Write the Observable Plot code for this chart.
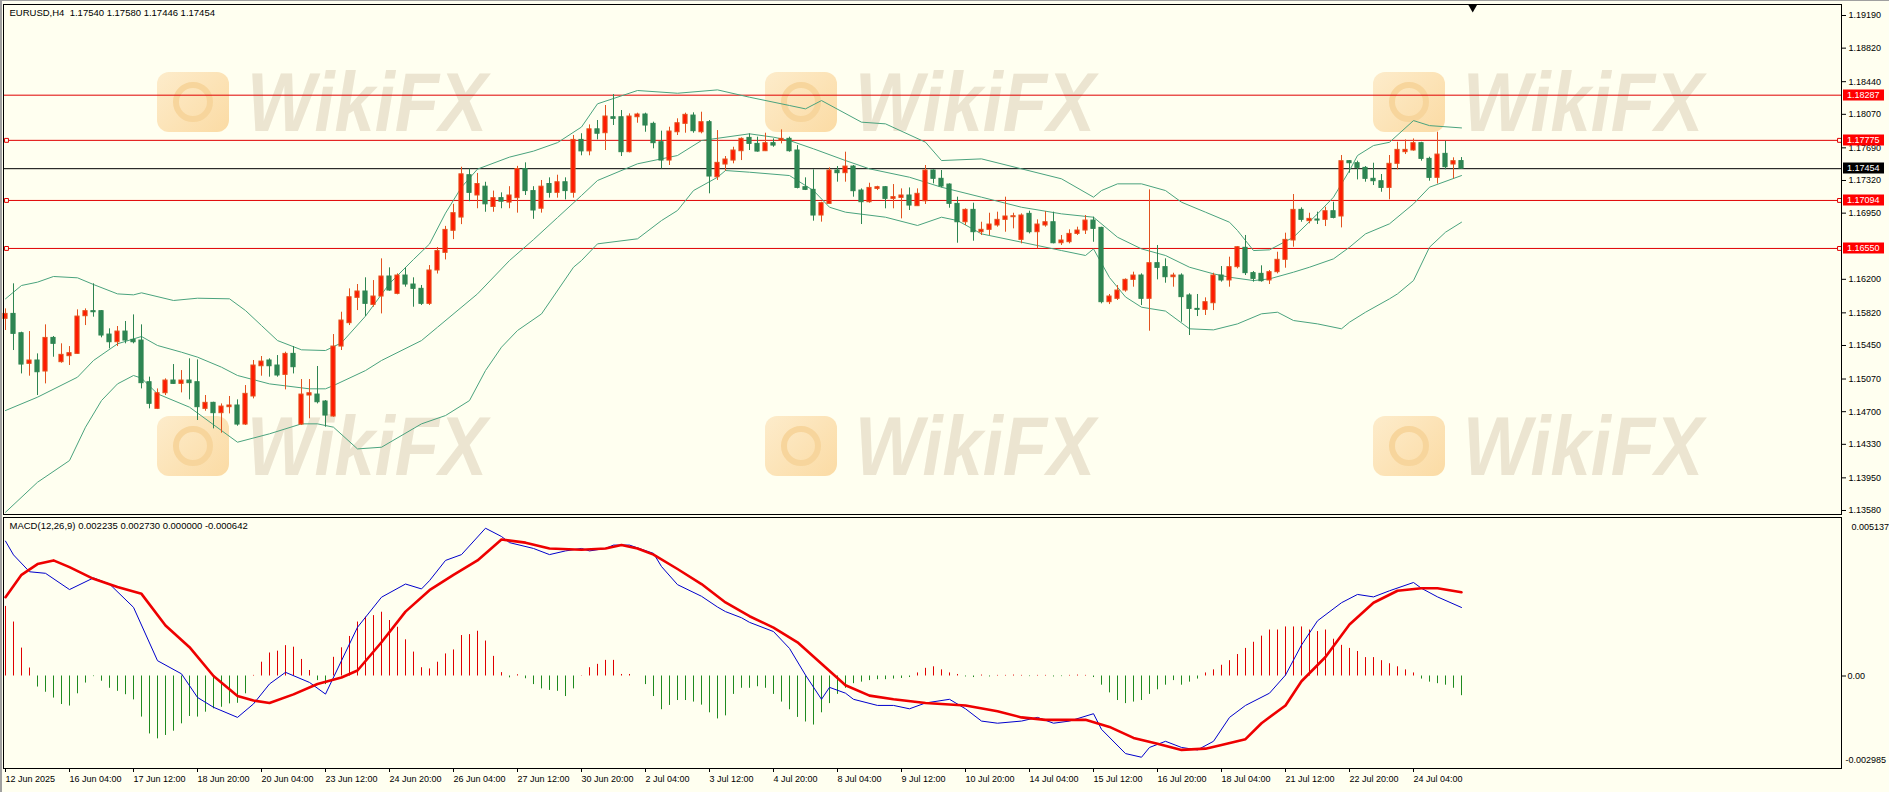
<!DOCTYPE html>
<html>
<head>
<meta charset="utf-8">
<script src="https://cdn.jsdelivr.net/npm/d3@7"></script>
<script src="https://cdn.jsdelivr.net/npm/@observablehq/plot@0.6"></script>
<style>
html, body { margin:0; padding:0; background:#fffff0; }
#wrap { position:relative; width:1889px; height:792px; overflow:hidden; background:#fffff0; }
.wm { position:absolute; height:80px; display:flex; align-items:center; pointer-events:none; }
.wm .ic { width:72px; height:60px; border-radius:12px; background:linear-gradient(135deg,#fdeccb,#fbdba4); margin-right:18px; position:relative; flex:none; }
.wm .ic::after { content:""; position:absolute; left:16px; top:10px; width:40px; height:40px; border-radius:50%; border:6px solid #f7d59c; box-sizing:border-box; }
.wm .tx { font-family:"Liberation Sans", Arial, sans-serif; font-weight:bold; font-style:italic; font-size:84px; line-height:84px; color:#ece5d1; transform:scaleX(0.86); transform-origin:left center; white-space:nowrap; }
#main, #macd { position:absolute; left:0; }
#main { top:0; }
#macd { top:515px; }
.edge { position:absolute; background:#a0a0a0; }
</style>
</head>
<body>
<div id="wrap">
  <div class="wm" style="left:157px;top:62px"><div class="ic"></div><div class="tx">WikiFX</div></div>
  <div class="wm" style="left:765px;top:62px"><div class="ic"></div><div class="tx">WikiFX</div></div>
  <div class="wm" style="left:1373px;top:62px"><div class="ic"></div><div class="tx">WikiFX</div></div>
  <div class="wm" style="left:157px;top:406px"><div class="ic"></div><div class="tx">WikiFX</div></div>
  <div class="wm" style="left:765px;top:406px"><div class="ic"></div><div class="tx">WikiFX</div></div>
  <div class="wm" style="left:1373px;top:406px"><div class="ic"></div><div class="tx">WikiFX</div></div>
  <div id="main"></div>
  <div id="macd"></div>
  <div class="edge" style="left:0;top:0;width:2px;height:792px"></div>
  <div class="edge" style="left:0;top:0;width:1889px;height:1px"></div>
</div>
<script>
// ---------------- data ----------------
const xLabels = ["12 Jun 2025","16 Jun 04:00","17 Jun 12:00","18 Jun 20:00","20 Jun 04:00","23 Jun 12:00","24 Jun 20:00","26 Jun 04:00","27 Jun 12:00","30 Jun 20:00","2 Jul 04:00","3 Jul 12:00","4 Jul 20:00","8 Jul 04:00","9 Jul 12:00","10 Jul 20:00","14 Jul 04:00","15 Jul 12:00","16 Jul 20:00","18 Jul 04:00","21 Jul 12:00","22 Jul 20:00","24 Jul 04:00"];
const xTickBars = [0,8,16,24,32,40,48,56,64,72,80,88,96,104,112,120,128,136,144,152,160,168,176];

const open = [
1.15752,1.15808,1.15589,1.15242,1.15280,1.15155,1.15536,1.15261,1.15329,1.15355,
1.15782,1.15839,1.15839,1.15574,1.15487,1.15608,1.15514,1.15506,1.15034,1.14732,
1.14909,1.15053,1.15015,1.15053,1.15034,1.14732,1.14800,1.14683,1.14751,1.14770,
1.14554,1.14872,1.15215,1.15280,1.15223,1.15117,1.15355,1.14554,1.14883,1.14894,
1.14815,1.14645,1.15438,1.15703,1.15990,1.16062,1.15910,1.16005,1.16232,1.16035,
1.16243,1.16141,1.16092,1.15922,1.16300,1.16500,1.16750,1.16900,1.17380,1.17150,
1.17250,1.17020,1.17120,1.17070,1.17120,1.17450,1.17200,1.17000,1.17280,1.17180,
1.17300,1.17180,1.17780,1.17650,1.17900,1.17856,1.18037,1.18037,1.17641,1.18037,
1.18068,1.17962,1.17754,1.17546,1.17867,1.17962,1.18056,1.17867,1.17981,1.17357,
1.17501,1.17546,1.17652,1.17803,1.17735,1.17652,1.17743,1.17773,1.17792,1.17660,
1.17244,1.17214,1.16923,1.17055,1.17433,1.17403,1.17478,1.17206,1.17074,1.17225,
1.17244,1.17112,1.17123,1.17150,1.17029,1.17085,1.17433,1.17339,1.17274,1.17055,
1.16847,1.16987,1.16734,1.16761,1.16810,1.16874,1.16904,1.16647,1.16942,1.16734,
1.16810,1.16847,1.16609,1.16621,1.16715,1.16753,1.16866,1.16783,1.15941,1.15979,
1.16073,1.16194,1.16243,1.15979,1.16383,1.16338,1.16224,1.16243,1.16017,1.15865,
1.15854,1.15929,1.16243,1.16187,1.16338,1.16557,1.16270,1.16262,1.16187,1.16281,
1.16421,1.16640,1.16987,1.16859,1.16878,1.16874,1.16972,1.16912,1.17539,1.17516,
1.17463,1.17339,1.17312,1.17236,1.17509,1.17641,1.17660,1.17743,1.17565,1.17350,
1.17622,1.17501,1.17540];
const high = [
1.15865,1.16149,1.15601,1.15608,1.15355,1.15684,1.15552,1.15469,1.15438,1.15854,
1.15865,1.16149,1.15846,1.15639,1.15665,1.15722,1.15797,1.15684,1.15091,1.14958,
1.15072,1.15234,1.15166,1.15299,1.15287,1.14883,1.14807,1.14788,1.14872,1.14834,
1.14996,1.15280,1.15325,1.15299,1.15336,1.15374,1.15438,1.15064,1.15064,1.15212,
1.14826,1.15574,1.15827,1.16092,1.16141,1.16217,1.16186,1.16432,1.16330,1.16262,
1.16330,1.16217,1.16130,1.16356,1.16560,1.16800,1.17050,1.17470,1.17450,1.17400,
1.17300,1.17200,1.17180,1.17250,1.17480,1.17520,1.17250,1.17320,1.17350,1.17380,
1.17350,1.17830,1.17850,1.17950,1.18000,1.18170,1.18294,1.18113,1.18075,1.18083,
1.18083,1.17981,1.17879,1.17924,1.18019,1.18083,1.18087,1.18094,1.18000,1.17886,
1.17592,1.17697,1.17803,1.17849,1.17811,1.17856,1.17792,1.17894,1.17811,1.17716,
1.17350,1.17441,1.17074,1.17463,1.17478,1.17641,1.17490,1.17225,1.17289,1.17255,
1.17252,1.17274,1.17225,1.17236,1.17225,1.17490,1.17440,1.17433,1.17282,1.17131,
1.16999,1.17063,1.16847,1.16949,1.16961,1.17131,1.16949,1.16942,1.16972,1.16874,
1.16968,1.16961,1.16697,1.16761,1.16791,1.16923,1.16904,1.16790,1.16028,1.16130,
1.16205,1.16281,1.16262,1.17214,1.16583,1.16432,1.16269,1.16262,1.16036,1.16028,
1.15990,1.16269,1.16345,1.16451,1.16572,1.16697,1.16288,1.16353,1.16300,1.16507,
1.16723,1.17161,1.17010,1.16949,1.16961,1.17017,1.17074,1.17603,1.17546,1.17539,
1.17478,1.17516,1.17388,1.17603,1.17754,1.17780,1.17791,1.17753,1.17584,1.17867,
1.17765,1.17577,1.17580];
const low = [
1.15620,1.15393,1.15128,1.15102,1.14883,1.15015,1.15317,1.15249,1.15223,1.15348,
1.15676,1.15771,1.15537,1.15412,1.15438,1.15469,1.15469,1.14958,1.14732,1.14724,
1.14883,1.15008,1.14913,1.14834,1.14600,1.14705,1.14505,1.14456,1.14675,1.14535,
1.14543,1.14845,1.15102,1.15091,1.15091,1.14947,1.15128,1.14543,1.14619,1.14788,
1.14524,1.14637,1.15393,1.15676,1.15846,1.15778,1.15884,1.15808,1.16065,1.16024,
1.16111,1.15884,1.15903,1.15903,1.16260,1.16420,1.16650,1.16820,1.17080,1.17000,
1.16960,1.16960,1.17000,1.17000,1.16950,1.17150,1.16880,1.16950,1.17120,1.17120,
1.17100,1.17120,1.17600,1.17600,1.17780,1.17660,1.17943,1.17592,1.17633,1.17969,
1.17867,1.17679,1.17452,1.17490,1.17830,1.17856,1.17856,1.17849,1.17169,1.17320,
1.17425,1.17509,1.17546,1.17660,1.17641,1.17648,1.17697,1.17735,1.17641,1.17225,
1.17206,1.16859,1.16848,1.17048,1.17301,1.17301,1.17131,1.16821,1.17063,1.17206,
1.16999,1.16999,1.16885,1.16980,1.17025,1.17048,1.17282,1.17236,1.17006,1.16609,
1.16810,1.16632,1.16697,1.16697,1.16791,1.16734,1.16772,1.16602,1.16715,1.16545,
1.16791,1.16602,1.16583,1.16602,1.16697,1.16708,1.16620,1.15922,1.15914,1.15960,
1.16054,1.16111,1.15903,1.15612,1.16194,1.16156,1.16111,1.15714,1.15563,1.15778,
1.15790,1.15846,1.16168,1.16111,1.16319,1.16243,1.16168,1.16168,1.16141,1.16262,
1.16326,1.16564,1.16847,1.16829,1.16821,1.16798,1.16885,1.16783,1.17403,1.17327,
1.17301,1.17263,1.17187,1.17101,1.17441,1.17614,1.17652,1.17539,1.17312,1.17281,
1.17441,1.17339,1.17446];
const close = [
1.15808,1.15582,1.15234,1.15280,1.15147,1.15536,1.15469,1.15344,1.15363,1.15778,
1.15839,1.15827,1.15563,1.15487,1.15608,1.15506,1.15487,1.15023,1.14789,1.14909,
1.15053,1.15015,1.15053,1.15023,1.14751,1.14800,1.14683,1.14758,1.14770,1.14554,
1.14902,1.15223,1.15268,1.15215,1.15110,1.15355,1.15204,1.14894,1.14909,1.14807,
1.14656,1.15438,1.15733,1.15997,1.16062,1.15922,1.16005,1.16232,1.16073,1.16243,
1.16141,1.16092,1.15922,1.16300,1.16520,1.16760,1.16950,1.17390,1.17180,1.17280,
1.17050,1.17120,1.17080,1.17150,1.17450,1.17200,1.16980,1.17250,1.17180,1.17300,
1.17200,1.17780,1.17650,1.17900,1.17850,1.18045,1.18019,1.17641,1.18045,1.18068,
1.17943,1.17743,1.17546,1.17875,1.17969,1.18064,1.17879,1.17981,1.17365,1.17520,
1.17558,1.17660,1.17792,1.17735,1.17648,1.17743,1.17716,1.17792,1.17652,1.17236,
1.17214,1.16923,1.17063,1.17433,1.17403,1.17478,1.17199,1.17074,1.17236,1.17244,
1.17112,1.17131,1.17150,1.17036,1.17169,1.17433,1.17339,1.17252,1.17055,1.16847,
1.16987,1.16734,1.16761,1.16821,1.16874,1.16912,1.16915,1.16923,1.16734,1.16821,
1.16847,1.16609,1.16640,1.16715,1.16753,1.16866,1.16772,1.15941,1.16005,1.16073,
1.16194,1.16243,1.15979,1.16383,1.16330,1.16224,1.16243,1.15998,1.15865,1.15854,
1.15941,1.16243,1.16187,1.16338,1.16564,1.16270,1.16205,1.16179,1.16281,1.16421,
1.16647,1.16987,1.16874,1.16885,1.16866,1.16972,1.16896,1.17539,1.17516,1.17463,
1.17339,1.17312,1.17236,1.17509,1.17667,1.17667,1.17743,1.17565,1.17350,1.17614,
1.17471,1.17539,1.17454];

// Bollinger bands read at bar index positions: [bar, price]
const bbUpper = [[0,1.15979],[2,1.16130],[4,1.16168],[6,1.16232],[9,1.16217],[11,1.16141],[14,1.16035],[16,1.16024],[17,1.16047],[21,1.15960],[24,1.15986],[28,1.15979],[30,1.15846],[32,1.15676],[34,1.15506],[37,1.15401],[40,1.15393],[42,1.15480],[45,1.15783],[48,1.16152],[51,1.16425],[53,1.16600],[55,1.16950],[57,1.17244],[59,1.17449],[63,1.17585],[66,1.17653],[69,1.17749],[72,1.17926],[74,1.18189],[79,1.18340],[84,1.18309],[89,1.18347],[93,1.18264],[98,1.18170],[100,1.18132],[102,1.18226],[107,1.17981],[110,1.17962],[115,1.17754],[117,1.17546],[122,1.17565],[127,1.17452],[132,1.17339],[136,1.17131],[137,1.17206],[139,1.17282],[142,1.17282],[145,1.17206],[147,1.17074],[150,1.16961],[153,1.16847],[154,1.16753],[156,1.16526],[158,1.16534],[161,1.16677],[164,1.16942],[166,1.17131],[168,1.17433],[169,1.17603],[171,1.17716],[173,1.17753],[176,1.17999],[178,1.17942],[182,1.17916]];
const bbMiddle = [[0,1.14713],[4,1.14864],[9,1.15091],[11,1.15280],[14,1.15469],[17,1.15552],[19,1.15450],[22,1.15374],[24,1.15318],[27,1.15204],[29,1.15110],[33,1.15015],[38,1.14959],[40,1.14959],[41,1.14996],[45,1.15166],[47,1.15280],[52,1.15506],[54,1.15657],[59,1.16035],[63,1.16413],[66,1.16650],[69,1.16900],[72,1.17150],[74,1.17320],[79,1.17509],[84,1.17603],[87,1.17773],[93,1.17849],[96,1.17811],[98,1.17773],[101,1.17679],[105,1.17546],[108,1.17452],[113,1.17357],[117,1.17244],[122,1.17131],[127,1.17017],[132,1.16942],[136,1.16904],[139,1.16677],[142,1.16545],[145,1.16470],[148,1.16337],[151,1.16262],[153,1.16224],[156,1.16186],[158,1.16205],[161,1.16281],[163,1.16337],[166,1.16432],[168,1.16564],[170,1.16715],[173,1.16829],[176,1.17055],[178,1.17244],[182,1.17376]];
const bbLower = [[0,1.13560],[4,1.13900],[8,1.14146],[10,1.14524],[12,1.14826],[14,1.15015],[16,1.15110],[17,1.15080],[19,1.14902],[23,1.14751],[27,1.14486],[29,1.14354],[33,1.14449],[37,1.14562],[39,1.14562],[41,1.14524],[44,1.14278],[47,1.14297],[52,1.14562],[55,1.14656],[58,1.14826],[60,1.15166],[62,1.15431],[64,1.15620],[67,1.15808],[71,1.16337],[72,1.16413],[74,1.16602],[79,1.16659],[82,1.16866],[84,1.16980],[86,1.17206],[89,1.17357],[90,1.17433],[93,1.17414],[98,1.17376],[101,1.17206],[103,1.17017],[105,1.16961],[110,1.16904],[114,1.16810],[117,1.16904],[119,1.16866],[122,1.16715],[127,1.16621],[132,1.16526],[135,1.16470],[136,1.16545],[138,1.16220],[140,1.16000],[142,1.15884],[145,1.15840],[148,1.15639],[151,1.15627],[154,1.15695],[157,1.15809],[159,1.15827],[161,1.15733],[164,1.15695],[167,1.15639],[168,1.15714],[170,1.15827],[173,1.15979],[174,1.16035],[176,1.16186],[178,1.16564],[180,1.16734],[182,1.16847]];

// MACD panel: [bar, value]
const macdMain = [[0,0.00440],[1,0.00395],[3,0.00340],[5,0.00335],[8,0.00282],[11,0.00320],[13,0.00300],[16,0.00224],[19,0.00050],[22,0.00007],[24,-0.00070],[26,-0.00102],[29,-0.00135],[31,-0.00091],[33,-0.00026],[35,0.00012],[38,-0.00021],[40,-0.00059],[42,0.00050],[44,0.00159],[47,0.00257],[50,0.00300],[52,0.00284],[53,0.00311],[55,0.00377],[57,0.00396],[60,0.00482],[62,0.00455],[63,0.00435],[66,0.00416],[68,0.00396],[70,0.00408],[72,0.00416],[73,0.00408],[75,0.00416],[76,0.00427],[78,0.00427],[81,0.00400],[82,0.00357],[84,0.00298],[87,0.00260],[89,0.00225],[90,0.00210],[92,0.00190],[93,0.00175],[96,0.00145],[98,0.00090],[100,0.00003],[102,-0.00076],[103,-0.00037],[105,-0.00056],[106,-0.00076],[109,-0.00096],[111,-0.00096],[113,-0.00107],[115,-0.00088],[118,-0.00076],[120,-0.00107],[122,-0.00147],[124,-0.00154],[127,-0.00147],[129,-0.00135],[131,-0.00154],[133,-0.00147],[136,-0.00123],[137,-0.00174],[140,-0.00253],[142,-0.00265],[143,-0.00233],[145,-0.00213],[147,-0.00233],[149,-0.00241],[151,-0.00213],[153,-0.00135],[155,-0.00096],[158,-0.00056],[160,0.00003],[162,0.00101],[164,0.00180],[167,0.00239],[169,0.00266],[171,0.00258],[173,0.00278],[176,0.00305],[177,0.00286],[179,0.00258],[182,0.002235]];
const macdSignal = [[0,0.00257],[2,0.00330],[4,0.00365],[6,0.00377],[8,0.00355],[11,0.00317],[14,0.00290],[17,0.00268],[20,0.00165],[23,0.00094],[26,0.00000],[29,-0.00065],[31,-0.00080],[33,-0.00088],[36,-0.00060],[39,-0.00026],[42,-0.00005],[44,0.00018],[47,0.00110],[50,0.00210],[53,0.00280],[56,0.00330],[59,0.00377],[62,0.00445],[65,0.00435],[68,0.00416],[72,0.00412],[75,0.00416],[77,0.00427],[79,0.00416],[81,0.00396],[84,0.00349],[87,0.00300],[90,0.00240],[93,0.00195],[96,0.00158],[99,0.00110],[102,0.00040],[105,-0.00030],[108,-0.00064],[111,-0.00076],[115,-0.00088],[120,-0.00096],[124,-0.00115],[127,-0.00135],[130,-0.00143],[135,-0.00143],[138,-0.00166],[141,-0.00202],[144,-0.00221],[147,-0.00241],[150,-0.00237],[152,-0.00225],[155,-0.00206],[157,-0.00154],[160,-0.00096],[162,-0.00017],[165,0.00062],[168,0.00168],[171,0.00239],[174,0.00278],[177,0.00286],[179,0.00286],[182,0.00273]];
const macdHist = [
0.00227,0.00176,0.00091,0.00026,-0.00036,-0.00053,-0.00072,-0.00093,-0.00098,-0.00058,
-0.00023,-0.00002,-0.00017,-0.00040,-0.00050,-0.00061,-0.00078,-0.00134,-0.00189,-0.00205,
-0.00194,-0.00180,-0.00156,-0.00132,-0.00134,-0.00118,-0.00107,-0.00102,-0.00091,-0.00089,
-0.00058,0.00002,0.00045,0.00075,0.00081,0.00099,0.00094,0.00054,0.00018,-0.00015,
-0.00028,0.00061,0.00092,0.00129,0.00176,0.00192,0.00197,0.00208,0.00181,0.00159,
0.00118,0.00078,0.00027,0.00023,0.00045,0.00072,0.00085,0.00132,0.00135,0.00146,
0.00114,0.00064,0.00011,-0.00006,0.00004,-0.00009,-0.00028,-0.00042,-0.00047,-0.00050,
-0.00067,-0.00042,0.00001,0.00027,0.00038,0.00051,0.00051,0.00005,0.00005,0.00000,
-0.00028,-0.00067,-0.00110,-0.00096,-0.00080,-0.00080,-0.00085,-0.00095,-0.00120,-0.00140,
-0.00130,-0.00060,-0.00040,-0.00040,-0.00035,-0.00040,-0.00060,-0.00085,-0.00110,-0.00135,
-0.00150,-0.00160,-0.00120,-0.00090,-0.00060,-0.00040,-0.00025,-0.00020,-0.00015,-0.00012,
-0.00012,-0.00010,-0.00008,-0.00005,0.00010,0.00025,0.00030,0.00020,0.00010,0.00005,
-0.00003,-0.00005,0.00003,-0.00003,0.00002,0.00002,0.00003,0.00002,-0.00002,0.00002,
0.00002,-0.00003,-0.00002,0.00002,0.00003,0.00002,-0.00005,-0.00030,-0.00055,-0.00080,
-0.00090,-0.00085,-0.00080,-0.00060,-0.00045,-0.00030,-0.00015,-0.00030,-0.00020,-0.00010,
0.00010,0.00020,0.00035,0.00050,0.00070,0.00090,0.00110,0.00130,0.00150,0.00150,
0.00160,0.00160,0.00160,0.00150,0.00145,0.00150,0.00120,0.00100,0.00090,0.00080,
0.00060,0.00060,0.00050,0.00040,0.00030,0.00020,0.00010,-0.00010,-0.00020,-0.00025,
-0.00030,-0.00040,-0.000642];

const redLevels = [1.18287, 1.17775, 1.17094, 1.16550];
const markedLevels = [1.17775, 1.17094, 1.16550];
const bidLevel = 1.17454;
const tagValues = [1.18287, 1.17775, 1.17454, 1.17094, 1.16550];
const tagColors = ["#ff0000", "#ff0000", "#000000", "#ff0000", "#ff0000"];
const priceTicks = [1.19190, 1.18820, 1.18440, 1.18070, 1.17690, 1.17320, 1.16950, 1.16200, 1.15820, 1.15450, 1.15070, 1.14700, 1.14330, 1.13950, 1.13580];
const headerText = "EURUSD,H4\u00a0\u00a01.17540 1.17580 1.17446 1.17454";
const macdText = "MACD(12,26,9) 0.002235 0.002730 0.000000 -0.000642";
const macdMax = 0.005137, macdMin = -0.002985;

// ---------------- drawing ----------------
const W = 1889;
const FONT = "Liberation Sans, Arial, sans-serif";
const UP_FILL = "#ff1a00", UP_LINE = "#e2521f", DN_FILL = "#2e8552", DN_LINE = "#2e8552";
const BB = "#4aa37e", BG = "#fffff0", LVL = "#e00000";
const bars = open.map((o, i) => ({i, o, h: high[i], l: low[i], c: close[i], up: close[i] > open[i]}));
const labelOf = new Map(xTickBars.map((b, k) => [b, xLabels[k]]));
const baseStyle = {background: "transparent", fontFamily: FONT, fontSize: "9px", color: "#000", overflow: "visible"};

const mainPlot = Plot.plot({
  width: W, height: 516, marginTop: 4, marginBottom: 2, marginLeft: 3, marginRight: 48,
  style: baseStyle,
  x: {domain: [-0.25, 229.5], axis: null},
  y: {domain: [1.135346, 1.193147], axis: null},
  color: {type: "identity"},
  marks: [
    Plot.ruleY(redLevels, {y: d => d, stroke: LVL, strokeWidth: 1}),
    Plot.ruleY([bidLevel], {y: d => d, stroke: "#000", strokeWidth: 1}),
    Plot.line(bbUpper, {x: d => d[0], y: d => d[1], stroke: BB, strokeWidth: 1}),
    Plot.line(bbMiddle, {x: d => d[0], y: d => d[1], stroke: BB, strokeWidth: 1}),
    Plot.line(bbLower, {x: d => d[0], y: d => d[1], stroke: BB, strokeWidth: 1}),
    Plot.ruleX(bars, {x: "i", y1: "l", y2: "h", stroke: d => d.up ? UP_LINE : DN_LINE, strokeWidth: 1}),
    Plot.rect(bars, {x1: d => d.i - 0.26, x2: d => d.i + 0.26, y1: "o", y2: "c",
      fill: d => d.up ? UP_FILL : DN_FILL, stroke: d => d.up ? UP_LINE : DN_LINE, strokeWidth: 1}),
    Plot.dot(markedLevels, {y: d => d, frameAnchor: "left", dx: 3, symbol: "square", r: 2.2, stroke: LVL, fill: BG, strokeWidth: 1}),
    Plot.dot(markedLevels, {y: d => d, frameAnchor: "right", dx: -2, symbol: "square", r: 2.2, stroke: LVL, fill: BG, strokeWidth: 1}),
    Plot.dot([open.length], {x: d => d + 0.4, frameAnchor: "top", dy: 3, symbol: "triangle", rotate: 180, r: 3.2, fill: "#000", stroke: null}),
    Plot.axisY(priceTicks, {anchor: "right", tickSize: 4, tickPadding: 3, tickFormat: d => d.toFixed(5), fontSize: 9}),
    Plot.frame({stroke: "#000", strokeWidth: 1}),
    Plot.text([headerText], {frameAnchor: "top-left", dx: 6, dy: 5, lineAnchor: "top", textAnchor: "start", fontSize: 9.5, fill: "#000"})
  ]
});
document.getElementById("main").appendChild(mainPlot);

// price tags on the right axis, positioned with the plot's own y scale
{
  const ys = mainPlot.scale("y");
  const xr = mainPlot.scale("x").range;
  const g = d3.select(mainPlot).append("g").attr("font-family", FONT).attr("font-size", 9).attr("text-anchor", "start");
  tagValues.forEach((v, k) => {
    const y = Math.round(ys.apply(v));
    g.append("rect").attr("x", xr[1] + 2).attr("y", y - 5.5).attr("width", 41).attr("height", 11).attr("fill", tagColors[k]);
    g.append("text").attr("x", xr[1] + 6).attr("y", y).attr("dy", "0.35em").attr("text-anchor", "start").attr("fill", "#fff").text(v.toFixed(5));
  });
}

const macdPlot = Plot.plot({
  width: W, height: 277, marginTop: 2, marginBottom: 24, marginLeft: 3, marginRight: 48,
  style: baseStyle,
  x: {domain: [-0.25, 229.5], axis: null},
  y: {domain: [-0.003017, 0.005170], axis: null},
  color: {type: "identity"},
  marks: [
    Plot.ruleX(macdHist, {x: (d, i) => i, y1: 0, y2: d => d, stroke: d => d >= 0 ? "#e00000" : "#1f8a1f", strokeWidth: 1}),
    Plot.line(macdMain, {x: d => d[0], y: d => d[1], stroke: "#0000cc", strokeWidth: 1}),
    Plot.line(macdSignal, {x: d => d[0], y: d => d[1], stroke: "#ee0000", strokeWidth: 2.6}),
    Plot.axisX(xTickBars, {anchor: "bottom", tickSize: 4, tickPadding: 3, tickFormat: d => labelOf.get(d), textAnchor: "start", fontSize: 9}),
    Plot.axisY([0], {anchor: "right", tickSize: 4, tickPadding: 2, tickFormat: () => "0.00", fontSize: 9}),
    Plot.text([macdMax], {frameAnchor: "top-right", dx: 10, dy: 6, textAnchor: "start", text: d => d.toFixed(6), fontSize: 9, fill: "#000"}),
    Plot.text([macdMin], {frameAnchor: "bottom-right", dx: 4, dy: -6, textAnchor: "start", text: d => d.toFixed(6), fontSize: 9, fill: "#000"}),
    Plot.frame({stroke: "#000", strokeWidth: 1}),
    Plot.text([macdText], {frameAnchor: "top-left", dx: 6, dy: 5, lineAnchor: "top", textAnchor: "start", fontSize: 9.5, fill: "#000"})
  ]
});
document.getElementById("macd").appendChild(macdPlot);
</script>
</body>
</html>
